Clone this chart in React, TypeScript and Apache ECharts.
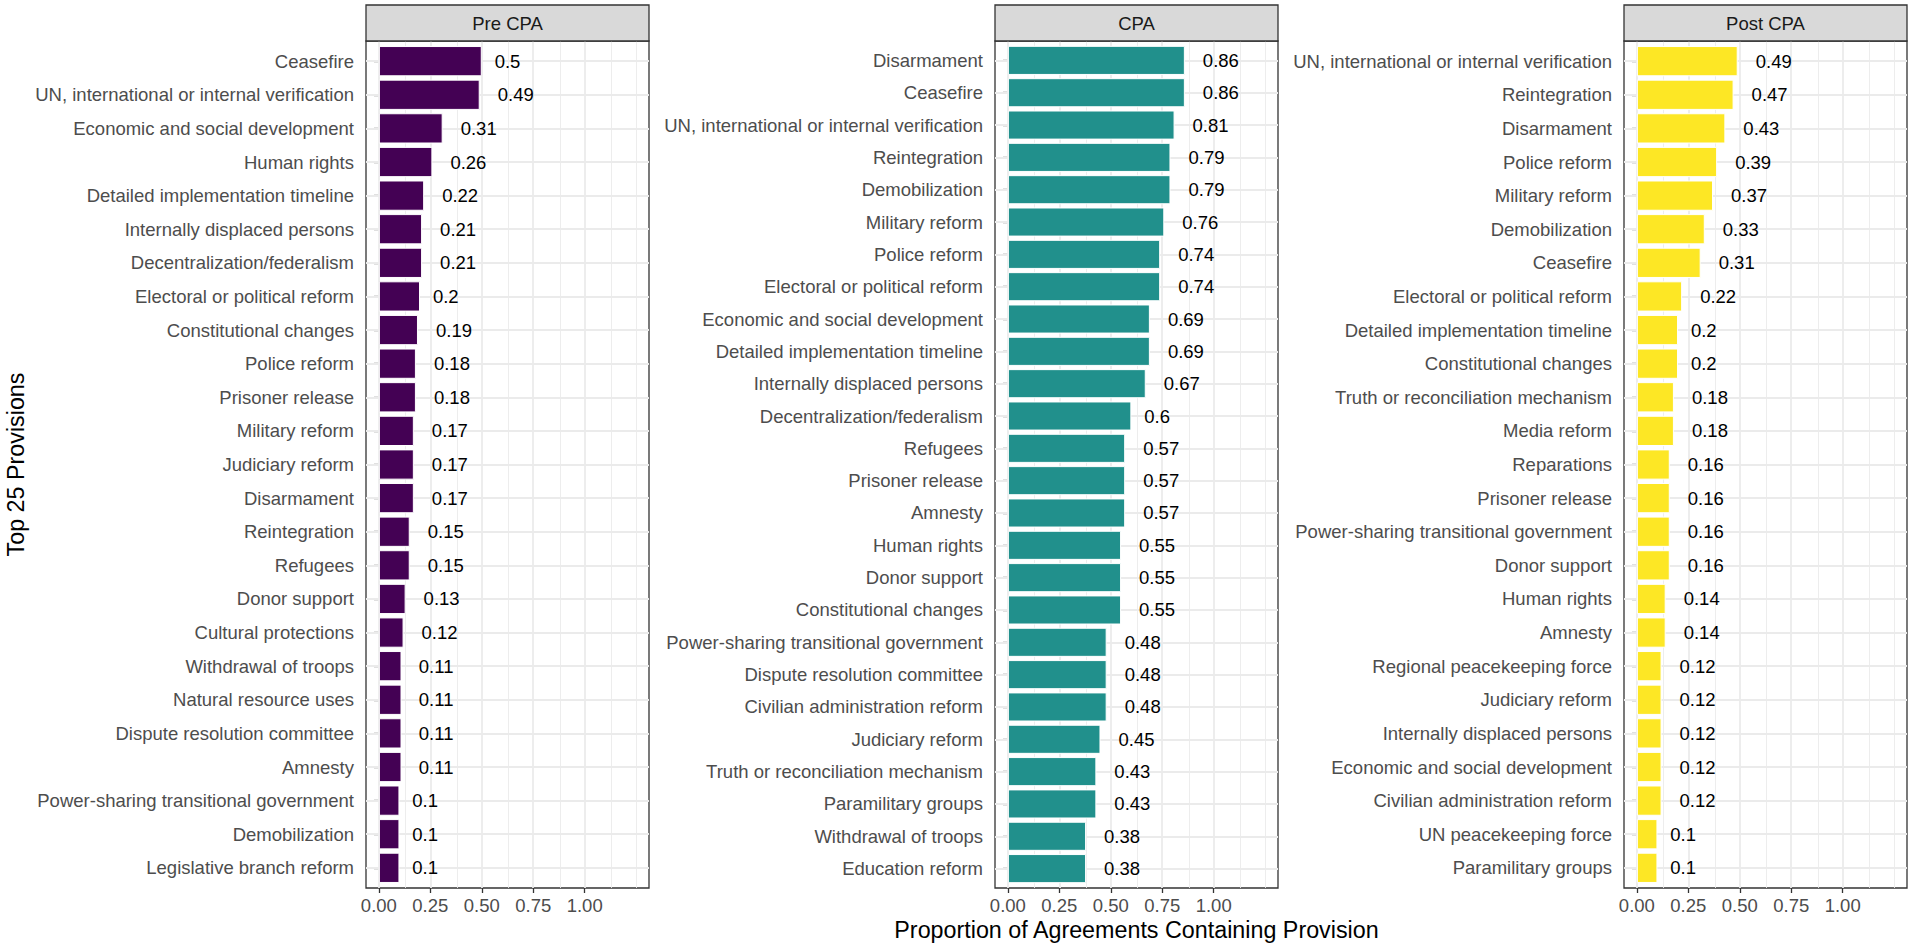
import React, { useEffect, useRef } from "react";
import * as echarts from "echarts";

const facetTitles = ["Pre CPA", "CPA", "Post CPA"];
const facetColors = ["#440154", "#21908C", "#FDE725"];

const preCategories = [
  "Ceasefire",
  "UN, international or internal verification",
  "Economic and social development",
  "Human rights",
  "Detailed implementation timeline",
  "Internally displaced persons",
  "Decentralization/federalism",
  "Electoral or political reform",
  "Constitutional changes",
  "Police reform",
  "Prisoner release",
  "Military reform",
  "Judiciary reform",
  "Disarmament",
  "Reintegration",
  "Refugees",
  "Donor support",
  "Cultural protections",
  "Withdrawal of troops",
  "Natural resource uses",
  "Dispute resolution committee",
  "Amnesty",
  "Power-sharing transitional government",
  "Demobilization",
  "Legislative branch reform",
];
const preValues = [
  0.5, 0.49, 0.31, 0.26, 0.22, 0.21, 0.21, 0.2, 0.19, 0.18, 0.18, 0.17, 0.17,
  0.17, 0.15, 0.15, 0.13, 0.12, 0.11, 0.11, 0.11, 0.11, 0.1, 0.1, 0.1,
];

const cpaCategories = [
  "Disarmament",
  "Ceasefire",
  "UN, international or internal verification",
  "Reintegration",
  "Demobilization",
  "Military reform",
  "Police reform",
  "Electoral or political reform",
  "Economic and social development",
  "Detailed implementation timeline",
  "Internally displaced persons",
  "Decentralization/federalism",
  "Refugees",
  "Prisoner release",
  "Amnesty",
  "Human rights",
  "Donor support",
  "Constitutional changes",
  "Power-sharing transitional government",
  "Dispute resolution committee",
  "Civilian administration reform",
  "Judiciary reform",
  "Truth or reconciliation mechanism",
  "Paramilitary groups",
  "Withdrawal of troops",
  "Education reform",
];
const cpaValues = [
  0.86, 0.86, 0.81, 0.79, 0.79, 0.76, 0.74, 0.74, 0.69, 0.69, 0.67, 0.6, 0.57,
  0.57, 0.57, 0.55, 0.55, 0.55, 0.48, 0.48, 0.48, 0.45, 0.43, 0.43, 0.38, 0.38,
];

const postCategories = [
  "UN, international or internal verification",
  "Reintegration",
  "Disarmament",
  "Police reform",
  "Military reform",
  "Demobilization",
  "Ceasefire",
  "Electoral or political reform",
  "Detailed implementation timeline",
  "Constitutional changes",
  "Truth or reconciliation mechanism",
  "Media reform",
  "Reparations",
  "Prisoner release",
  "Power-sharing transitional government",
  "Donor support",
  "Human rights",
  "Amnesty",
  "Regional peacekeeping force",
  "Judiciary reform",
  "Internally displaced persons",
  "Economic and social development",
  "Civilian administration reform",
  "UN peacekeeping force",
  "Paramilitary groups",
];
const postValues = [
  0.49, 0.47, 0.43, 0.39, 0.37, 0.33, 0.31, 0.22, 0.2, 0.2, 0.18, 0.18, 0.16,
  0.16, 0.16, 0.16, 0.14, 0.14, 0.12, 0.12, 0.12, 0.12, 0.12, 0.1, 0.1,
];

const xTickValues = [0, 0.25, 0.5, 0.75, 1.0];
const xGridValues = [0, 0.125, 0.25, 0.375, 0.5, 0.625, 0.75, 0.875, 1.0, 1.125, 1.25];
const xMin = -0.0625;
const xMax = 1.3125;
const yTitle = "Top 25 Provisions";
const xTitle = "Proportion of Agreements Containing Provision";

const W = 1912;
const H = 949;
const panelLefts = [366, 995, 1624];
const panelWidth = 283;
const panelTop = 41;
const panelBottom = 888;
const stripTop = 5;
const FONT = "Liberation Sans, Arial, Helvetica, sans-serif";
const LABEL_SIZE = 18.5;
const AXIS_SIZE = 18.5;

export default function App() {
  const ref = useRef<HTMLDivElement>(null);

  useEffect(() => {
    if (!ref.current) return;
    const chart = echarts.init(ref.current, null, { renderer: "svg", width: W, height: H });
    const canvas = document.createElement("canvas");
    const ctx = canvas.getContext("2d") as CanvasRenderingContext2D;
    ctx.font = `${LABEL_SIZE}px "Liberation Sans"`;
    const half = (t: string) => ctx.measureText(t).width / 2;

    const facets = [
      { title: facetTitles[0], cats: preCategories, vals: preValues, color: facetColors[0] },
      { title: facetTitles[1], cats: cpaCategories, vals: cpaValues, color: facetColors[1] },
      { title: facetTitles[2], cats: postCategories, vals: postValues, color: facetColors[2] },
    ];
    const panelH = panelBottom - panelTop;
    const grid: any[] = [];
    const xAxis: any[] = [];
    const yAxis: any[] = [];
    const series: any[] = [];
    const graphic: any[] = [];

    facets.forEach((f, i) => {
      const left = panelLefts[i];
      const n = f.cats.length;
      const band = panelH / (n + 0.2);
      const pad = band * 0.1;
      const og = i * 2;
      const ig = i * 2 + 1;
      grid.push({
        left,
        top: panelTop,
        width: panelWidth,
        height: panelH,
        show: true,
        borderColor: "#333333",
        borderWidth: 1.3,
        backgroundColor: "#ffffff",
        containLabel: false,
        outerBoundsMode: "none",
      });
      grid.push({
        left,
        top: panelTop + pad,
        width: panelWidth,
        height: panelH - 2 * pad,
        containLabel: false,
        outerBoundsMode: "none",
      });
      xAxis.push({
        gridIndex: og,
        type: "value",
        min: xMin,
        max: xMax,
        axisLine: { show: false },
        splitLine: { show: false },
        axisTick: {
          show: true,
          customValues: xTickValues,
          length: 5,
          lineStyle: { color: "#333333", width: 1.3 },
        },
        axisLabel: {
          customValues: xTickValues,
          formatter: (v: number) => v.toFixed(2),
          color: "#4D4D4D",
          fontSize: AXIS_SIZE,
          fontFamily: FONT,
          margin: 8,
        },
      });
      xAxis.push({ gridIndex: ig, type: "value", min: xMin, max: xMax, show: false });
      yAxis.push({ gridIndex: og, type: "value", min: 0, max: 1, show: false });
      yAxis.push({
        gridIndex: ig,
        type: "category",
        data: f.cats,
        inverse: true,
        axisLine: { show: false },
        axisTick: {
          show: true,
          alignWithLabel: true,
          length: 5,
          lineStyle: { color: "#333333", width: 1.3 },
        },
        axisLabel: {
          color: "#4D4D4D",
          fontSize: AXIS_SIZE,
          fontFamily: FONT,
          margin: 12,
          interval: 0,
        },
        splitLine: { show: false },
      });
      series.push({
        type: "line",
        xAxisIndex: og,
        yAxisIndex: og,
        data: [],
        silent: true,
        z: 1,
        markLine: {
          silent: true,
          z: 1,
          symbol: "none",
          label: { show: false },
          animation: false,
          data: xGridValues.map((v) => ({
            xAxis: v,
            lineStyle: {
              color: "#EBEBEB",
              width: xTickValues.includes(v) ? 1.8 : 0.9,
              type: "solid",
            },
          })),
        },
      });
      series.push({
        type: "line",
        xAxisIndex: ig,
        yAxisIndex: ig,
        data: [],
        silent: true,
        z: 1,
        markLine: {
          silent: true,
          z: 1,
          symbol: "none",
          label: { show: false },
          animation: false,
          lineStyle: { color: "#EBEBEB", width: 1.8, type: "solid" },
          data: f.cats.map((c) => ({ yAxis: c })),
        },
      });
      series.push({
        type: "bar",
        xAxisIndex: ig,
        yAxisIndex: ig,
        z: 3,
        barCategoryGap: "10%",
        data: f.vals.map((v) => ({ value: v, label: { distance: half(String(v)) } })),
        itemStyle: { color: f.color, borderColor: "#ffffff", borderWidth: 1 },
        label: {
          show: true,
          position: "right",
          color: "#000000",
          fontSize: LABEL_SIZE,
          fontFamily: FONT,
          formatter: (p: any) => String(p.value),
        },
      });
      graphic.push({
        type: "rect",
        shape: { x: left, y: stripTop, width: panelWidth, height: panelTop - stripTop },
        style: { fill: "#D9D9D9", stroke: "#333333", lineWidth: 1.3 },
        z: 10,
      });
      graphic.push({
        type: "text",
        x: left + panelWidth / 2,
        y: (stripTop + panelTop) / 2,
        z: 11,
        style: {
          text: f.title,
          fontSize: AXIS_SIZE,
          fontFamily: FONT,
          fill: "#1A1A1A",
          align: "center",
          verticalAlign: "middle",
        },
      });
    });

    graphic.push({
      type: "text",
      x: (panelLefts[0] + panelLefts[2] + panelWidth) / 2,
      y: 930,
      style: {
        text: xTitle,
        fontSize: 23.3,
        fontFamily: FONT,
        fill: "#000000",
        align: "center",
        verticalAlign: "middle",
      },
    });
    graphic.push({
      type: "text",
      x: 16,
      y: (panelTop + panelBottom) / 2,
      rotation: Math.PI / 2,
      style: {
        text: yTitle,
        fontSize: 23.3,
        fontFamily: FONT,
        fill: "#000000",
        align: "center",
        verticalAlign: "middle",
      },
    });

    chart.setOption({
      animation: false,
      backgroundColor: "#ffffff",
      textStyle: { fontFamily: FONT },
      grid,
      xAxis,
      yAxis,
      series,
      graphic,
    });
    return () => chart.dispose();
  }, []);

  return (
    <div
      ref={ref}
      style={{ position: "fixed", left: 0, top: 0, width: W, height: H, background: "#fff" }}
    />
  );
}
